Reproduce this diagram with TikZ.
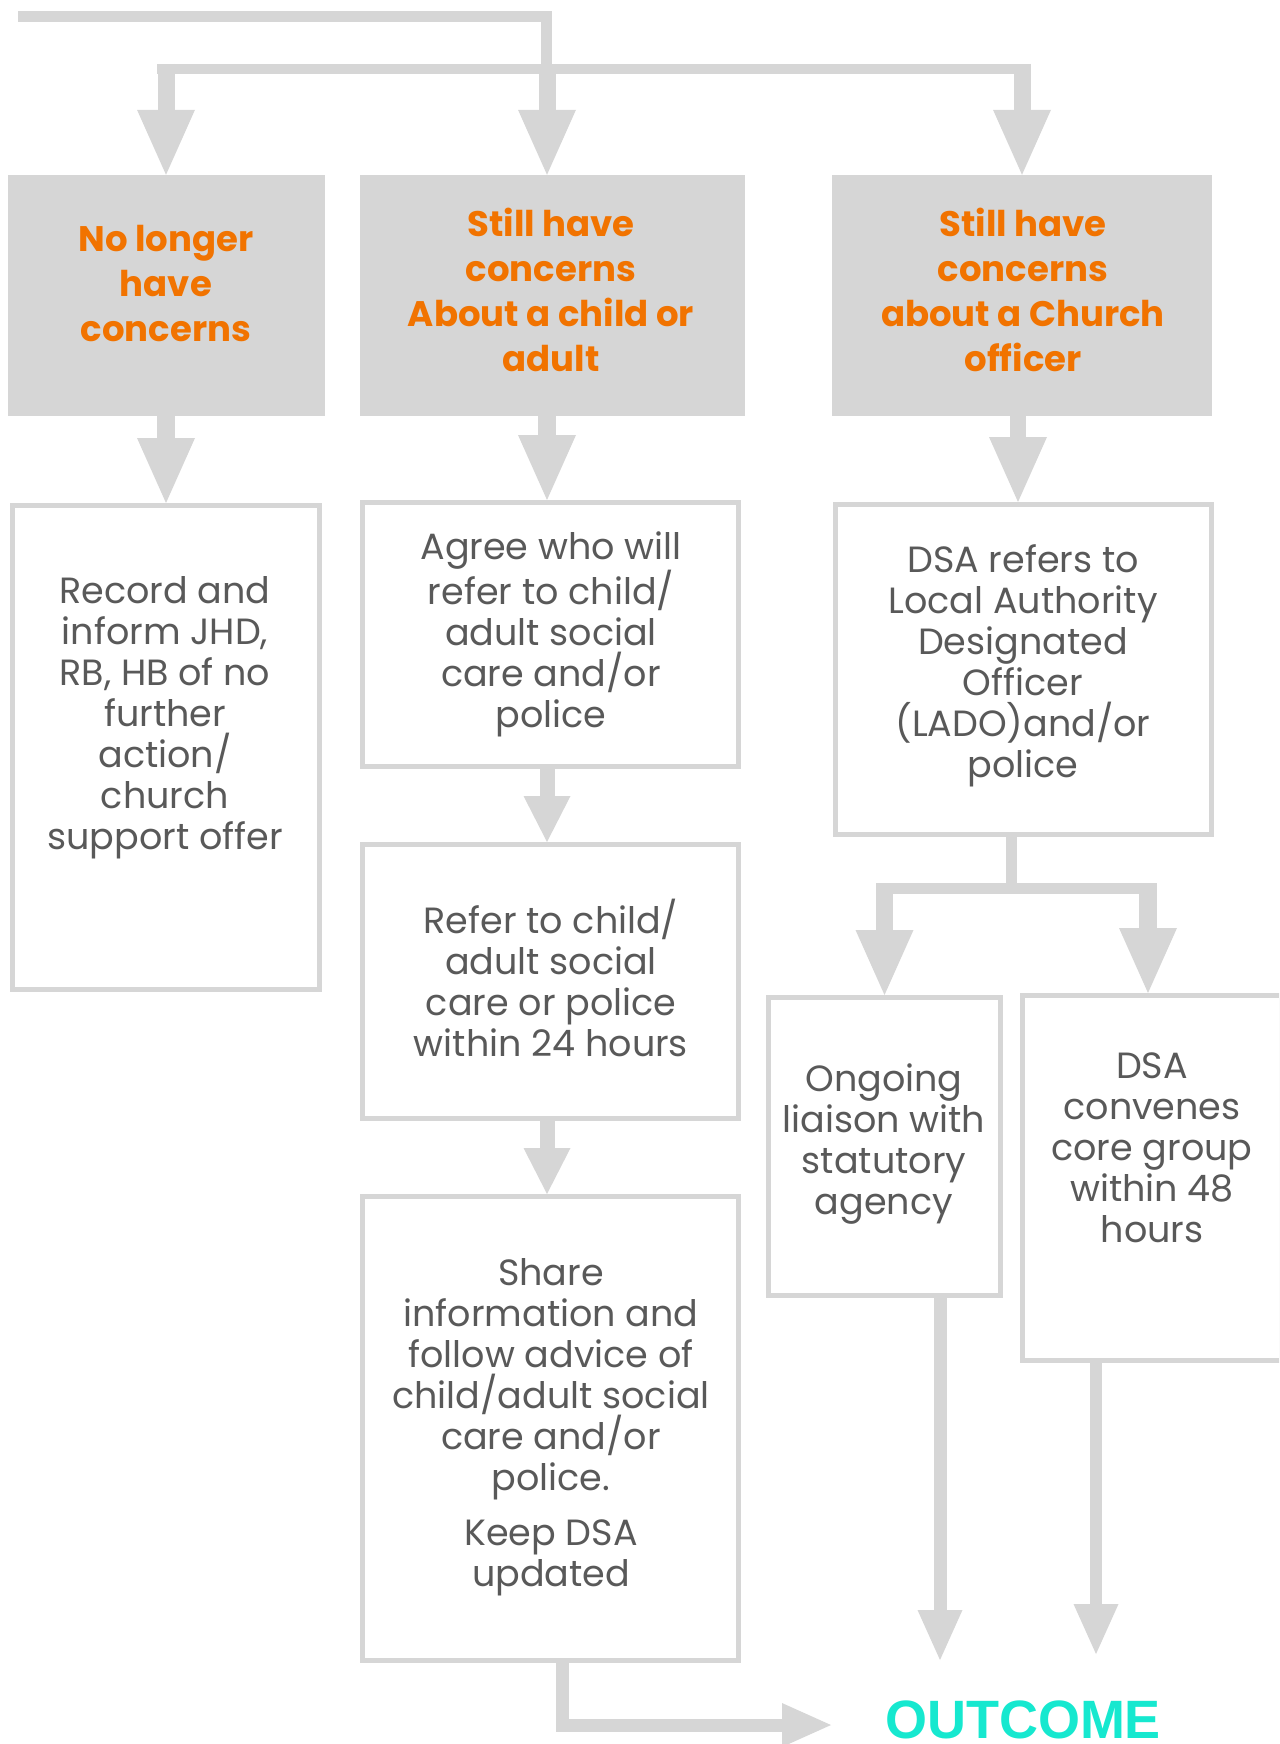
\documentclass[tikz,border=0pt]{standalone}
\usepackage{fontspec}
\setmainfont{Poppins}
\newfontfamily\outfont{Liberation Sans}
\usetikzlibrary{arrows.meta}
\definecolor{boxgray}{RGB}{214,214,214}
\definecolor{orangec}{RGB}{241,115,0}
\definecolor{txtgray}{RGB}{89,89,89}
\definecolor{cyanc}{RGB}{22,232,207}
\tikzset{
  gbox/.style={fill=boxgray, draw=none, inner sep=0pt},
  wbox/.style={draw=boxgray, line width=5pt, fill=white, inner sep=0pt},
  headtxt/.style={text=orangec, font=\fontsize{35.5}{45}\selectfont\bfseries, align=center, inner sep=0pt},
  bodytxt/.style={text=txtgray, font=\fontsize{36.5}{41}\selectfont, align=center, inner sep=0pt},
  link/.style={draw=boxgray, line width=#1, line join=miter},
  tipL/.style={-{Triangle[width=58pt,length=65pt,line width=0pt]}},
  tipM/.style={-{Triangle[width=47pt,length=46pt,line width=0pt]}},
  tipS/.style={-{Triangle[width=45pt,length=50pt,line width=0pt]}},
  tipO/.style={-{Triangle[width=44pt,length=49pt,line width=0pt]}},
}
\begin{document}
\begin{tikzpicture}[x=1pt,y=-1pt]
\useasboundingbox (0,0) rectangle (1279,1744);
\clip (0,0) rectangle (1279,1744);

% grey header boxes
\node[gbox, minimum width=317, minimum height=241] (g1) at (166.5,295.5) {};
\node[gbox, minimum width=385, minimum height=241] (g2) at (552.5,295.5) {};
\node[gbox, minimum width=380, minimum height=241] (g3) at (1022,295.5) {};
\node[headtxt] (t1) at (166,283.5) {No longer\\have\\concerns};
\node[headtxt] (t2) at (551,290) {Still have\\concerns\\About a child or\\adult};
\node[headtxt] (t3) at (1023,290) {Still have\\concerns\\about a Church\\officer};

% white outlined boxes
\node[wbox, minimum width=307, minimum height=484] (r1) at (166,747.5) {};
\node[wbox, minimum width=376, minimum height=264] (a1) at (550.5,634.5) {};
\node[wbox, minimum width=376, minimum height=274] (a2) at (550.5,981.5) {};
\node[wbox, minimum width=376, minimum height=464] (a3) at (550.5,1428.5) {};
\node[wbox, minimum width=376, minimum height=330] (d1) at (1023.5,669.5) {};
\node[wbox, minimum width=232, minimum height=298] (d2) at (884.5,1146.5) {};
\node[wbox, minimum width=259, minimum height=365] (d3) at (1152,1178) {};

\node[bodytxt] (tr1) at (165,717.5) {Record and\\inform JHD,\\RB, HB of no\\further\\action/\\church\\support offer};
\node[bodytxt] (ta1) at (551,634) {Agree who will\\refer to child/\\adult social\\care and/or\\police};
\node[bodytxt] (ta2) at (551,977.5) {Refer to child/\\adult social\\care or police\\within 24 hours};
\node[bodytxt] (ta3) at (551,1427.5) {Share\\information and\\follow advice of\\child/adult social\\care and/or\\police.\\[14pt]Keep DSA\\updated};
\node[bodytxt] (td1) at (1023,665.5) {DSA refers to\\Local Authority\\Designated\\Officer\\(LADO)and/or\\police};
\node[bodytxt] (td2) at (884,1144.5) {Ongoing\\liaison with\\statutory\\agency};
\node[bodytxt] (td3) at (1152,1148) {DSA\\convenes\\core group\\within 48\\hours};

% outcome
\node[anchor=base, text=cyanc, inner sep=0pt, font=\outfont\fontsize{54}{60}\selectfont\bfseries] (out) at (1023,1738) {OUTCOME};

% junction coordinates
\coordinate (s0) at (18,16.5);
\coordinate (j0) at (546.5,16.5);
\coordinate (j1) at (546.5,69);
\coordinate (bar0) at (157,69);
\coordinate (bar1) at (1031,69);
\coordinate (bl) at (166,64);
\coordinate (bm) at (547,64);
\coordinate (br) at (1022,64);
\coordinate (cx3) at (1018,0);
\coordinate (split) at (1011.5,888.5);
\coordinate (sb0) at (876,888.5);
\coordinate (sb1) at (1157,888.5);
\coordinate (sl) at (884.5,883);
\coordinate (sr) at (1148,883);
\coordinate (o1) at (940,1660);
\coordinate (o2) at (1096,1654);
\coordinate (c3) at (562,1725);
\coordinate (o3) at (831,1725);

% top distribution
\draw[link=10.5pt] (s0) -- (j0) -- (j1);
\draw[link=10.5pt] (bar0) -- (bar1);
\draw[link=17pt, tipL] (bl) -- (bl |- g1.north);
\draw[link=17pt, tipL] (bm) -- (bm |- g2.north);
\draw[link=17pt, tipL] (br) -- (br |- g3.north);

% header to first boxes
\draw[link=18pt, tipL] (bl |- g1.south) -- (bl |- r1.north);
\draw[link=18pt, tipL] (bm |- g2.south) -- (bm |- a1.north);
\draw[link=16pt, tipL] (cx3 |- g3.south) -- (cx3 |- d1.north);

% middle column
\draw[link=15pt, tipM] (bm |- a1.south) -- (bm |- a2.north);
\draw[link=15pt, tipM] (bm |- a2.south) -- (bm |- a3.north);

% right split
\draw[link=11pt] (split |- d1.south) -- (split);
\draw[link=11pt] (sb0) -- (sb1);
\draw[link=17pt, tipL] (sl) -- (sl |- d2.north);
\draw[link=18pt, tipL] (sr) -- (sr |- d3.north);

% to outcome
\draw[link=13pt, tipS] (o1 |- d2.south) -- (o1);
\draw[link=12pt, tipS] (o2 |- d3.south) -- (o2);
\draw[link=13pt, tipO] (c3 |- a3.south) -- (c3) -- (o3);
\end{tikzpicture}
\end{document}
